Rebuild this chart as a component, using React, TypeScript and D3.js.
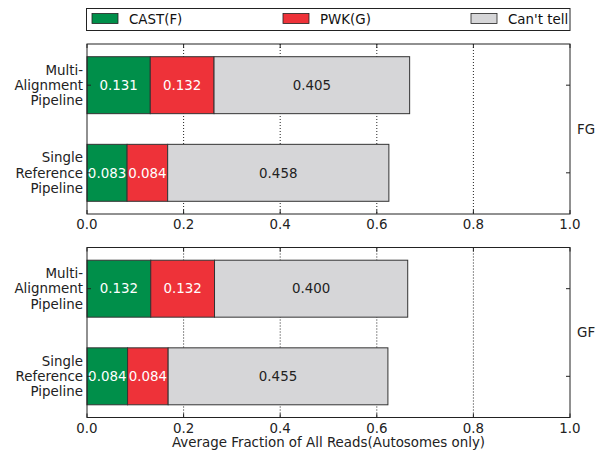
import React from "react";
import * as d3 from "d3";

const categories = ["Multi-\nAlignment\nPipeline", "Single\nReference\nPipeline"];
const panels = ["FG", "GF"];
const seriesNames = ["CAST(F)", "PWK(G)", "Can't tell"];
const seriesColors = ["#008f4a", "#ee3239", "#d6d6d8"];
const labelColors = ["#ffffff", "#ffffff", "#222222"];
// values[panel][category][series]
const fgValues = [
  [0.131, 0.132, 0.405],
  [0.083, 0.084, 0.458],
];
const gfValues = [
  [0.132, 0.132, 0.4],
  [0.084, 0.084, 0.455],
];
const xTicks = [0, 0.2, 0.4, 0.6, 0.8, 1.0];
const xTitle = "Average Fraction of All Reads(Autosomes only)";

const W = 598;
const H = 454;
const FONT = "DejaVu Sans, sans-serif";
const FS = 13.4;

export default function App() {
  const x = d3.scaleLinear().domain([0, 1]).range([87, 570]);
  const panelTops = [44, 247.5];
  const panelH = 170;
  const allValues = [fgValues, gfValues];

  return (
    <svg
      width={W}
      height={H}
      style={{ position: "absolute", left: 0, top: 0, background: "#fff" }}
      fontFamily={FONT}
    >
      {/* legend */}
      <rect x={86.5} y={8.5} width={483.5} height={22} fill="#fff" stroke="#222" strokeWidth={1} />
      {seriesNames.map((s, i) => {
        const px = [92, 283, 471][i];
        return (
          <g key={s}>
            <rect x={px} y={13.5} width={26} height={10} fill={seriesColors[i]} stroke="#222" strokeWidth={0.8} />
            <text x={px + 37} y={23.5} fontSize={FS} fill="#111">
              {s}
            </text>
          </g>
        );
      })}

      {panels.map((p, pi) => {
        const top = panelTops[pi];
        const y = d3.scaleLinear().domain([-0.47, 1.47]).range([top, top + panelH]);
        const bh = y(0.65) - y(0);
        const vals = allValues[pi];
        return (
          <g key={p}>
            {/* gridlines */}
            {xTicks.slice(1, -1).map((t) => (
              <line
                key={t}
                x1={x(t)}
                x2={x(t)}
                y1={top}
                y2={top + panelH}
                stroke="#222"
                strokeWidth={1}
                strokeDasharray="1,2"
              />
            ))}
            {/* bars */}
            {categories.map((c, ci) => {
              const cum = d3.cumsum(vals[ci]);
              return (
                <g key={c}>
                  {vals[ci].map((v, si) => {
                    const x0 = x(cum[si] - v);
                    const x1 = x(cum[si]);
                    return (
                      <g key={si}>
                        <rect
                          x={x0}
                          y={y(ci) - bh / 2}
                          width={x1 - x0}
                          height={bh}
                          fill={seriesColors[si]}
                          stroke="#333"
                          strokeWidth={1}
                        />
                        <text
                          x={(x0 + x1) / 2}
                          y={y(ci)}
                          dy="0.35em"
                          textAnchor="middle"
                          fontSize={FS}
                          fill={labelColors[si]}
                        >
                          {v.toFixed(3)}
                        </text>
                      </g>
                    );
                  })}
                </g>
              );
            })}
            {/* frame */}
            <rect x={x(0)} y={top} width={x(1) - x(0)} height={panelH} fill="none" stroke="#222" strokeWidth={1} />
            {/* x ticks */}
            {xTicks.map((t) => (
              <g key={t}>
                <line x1={x(t)} x2={x(t)} y1={top} y2={top + 4} stroke="#222" />
                <line x1={x(t)} x2={x(t)} y1={top + panelH} y2={top + panelH - 4} stroke="#222" />
                <text x={x(t)} y={top + panelH + 15} textAnchor="middle" fontSize={FS} fill="#222">
                  {t.toFixed(1)}
                </text>
              </g>
            ))}
            {/* y ticks and labels */}
            {categories.map((c, ci) => {
              const lines = c.split("\n");
              return (
                <g key={c}>
                  <line x1={x(0)} x2={x(0) + 4} y1={y(ci)} y2={y(ci)} stroke="#222" />
                  <line x1={x(1)} x2={x(1) - 4} y1={y(ci)} y2={y(ci)} stroke="#222" />
                  {lines.map((l, li) => (
                    <text
                      key={li}
                      x={83}
                      y={y(ci) + (li - 1) * 15.3}
                      dy="0.35em"
                      textAnchor="end"
                      fontSize={FS}
                      fill="#222"
                    >
                      {l}
                    </text>
                  ))}
                </g>
              );
            })}
            {/* panel label */}
            <text x={577} y={top + panelH / 2} dy="0.35em" fontSize={FS} fill="#222">
              {p}
            </text>
          </g>
        );
      })}
      <text x={x(0.5)} y={447} textAnchor="middle" fontSize={FS} fill="#222">
        {xTitle}
      </text>
    </svg>
  );
}
